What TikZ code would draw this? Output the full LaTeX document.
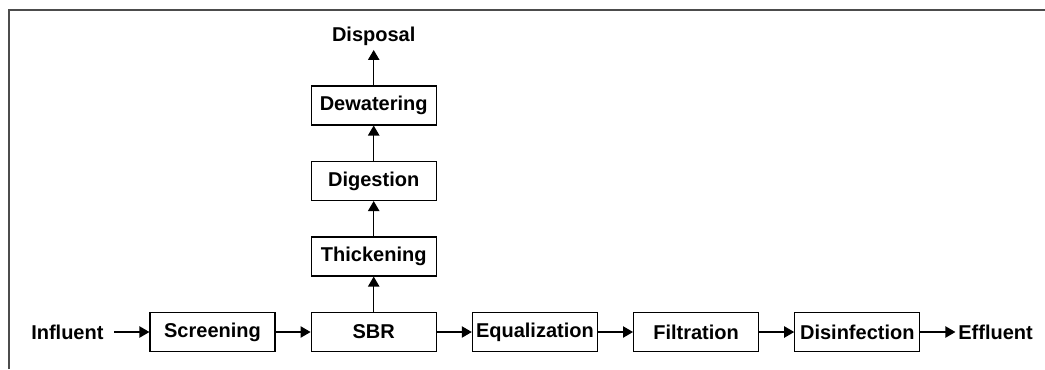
\documentclass[tikz,border=0pt]{standalone}
\usepackage{fontspec}
\setmainfont{Liberation Sans}
\usetikzlibrary{arrows.meta, positioning}

\begin{document}
\begin{tikzpicture}[x=0.75pt, y=-0.75pt, node distance=26.5pt and 26.25pt,
  every node/.style={font=\bfseries\fontsize{15}{18}\selectfont},
  unit/.style={draw, line width=0.9pt, rectangle, minimum width=93.75pt, minimum height=29.25pt, inner sep=0pt},
  term/.style={inner sep=2pt},
  flow/.style={-{Triangle[length=7.5pt,width=8.5pt]}, line width=0.9pt}]
\useasboundingbox (0,0) rectangle (1045,369);
% Frame
\draw[line width=1.5pt, black!70] (9,369) |- (1045,10);

% Liquid stream
\node[unit] (screen) at (212.5,332) {Screening};
\node[unit, right=of screen] (sbr) {SBR};
\node[unit, right=of sbr] (equal) {Equalization};
\node[unit, right=of equal] (filt) {Filtration};
\node[unit, right=of filt] (disinf) {Disinfection};
\node[term, inner xsep=8pt, left=of screen] (infl) {Influent};
\node[term, right=of disinf] (effl) {Effluent};

% Sludge stream
\node[unit, above=of sbr] (thick) {Thickening};
\node[unit, above=of thick] (digest) {Digestion};
\node[unit, above=of digest] (dewater) {Dewatering};
\node[term, inner ysep=3pt, above=of dewater] (disp) {Disposal};

% Arrows
\draw[flow] (infl) -- (screen);
\draw[flow] (screen) -- (sbr);
\draw[flow] (sbr) -- (equal);
\draw[flow] (equal) -- (filt);
\draw[flow] (filt) -- (disinf);
\draw[flow] (disinf) -- (effl);
\draw[flow] (sbr) -- (thick);
\draw[flow] (thick) -- (digest);
\draw[flow] (digest) -- (dewater);
\draw[flow] (dewater) -- (disp);
\end{tikzpicture}
\end{document}
